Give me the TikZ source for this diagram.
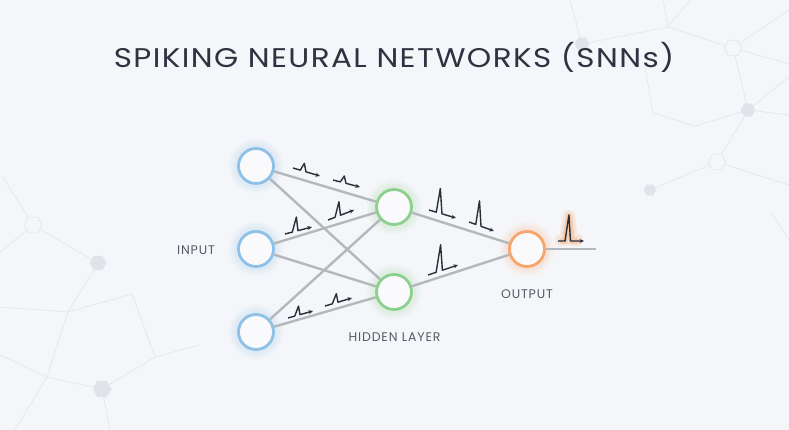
\documentclass[tikz,border=0pt]{standalone}
\usepackage{fontspec}
\setmainfont{Poppins}
\newfontfamily\titlefont[LetterSpace=4.5]{Poppins}
\newfontfamily\labelfont[LetterSpace=7]{Poppins}
\usetikzlibrary{calc,arrows.meta}
\definecolor{bg}{HTML}{F5F6F9}
\definecolor{netc}{HTML}{E4E8EE}
\definecolor{hexf}{HTML}{E0E4EA}
\definecolor{connc}{HTML}{B4B7BC}
\definecolor{bluec}{HTML}{8EC1E8}
\definecolor{greenc}{HTML}{8DD08D}
\definecolor{orangec}{HTML}{F7A56A}
\definecolor{spikec}{HTML}{2A2E37}
\definecolor{titlec}{HTML}{2D3340}
\definecolor{labelc}{HTML}{555B66}
\tikzset{
  neuron/.style={circle, minimum size=35pt, inner sep=0pt, line width=2.8pt, fill=white!50!bg},
  conn/.style={draw=connc, line width=2.4pt},
  spikeline/.style={draw=spikec, line width=1.4pt, line join=round, -{Stealth[length=4.5pt,width=4pt]}},
  netline/.style={draw=netc, line width=0.8pt},
  hexo/.style={draw=netc, line width=0.9pt, fill=bg},
  hexfl/.style={draw=hexf, line width=0.6pt, fill=hexf},
  lbl/.style={text=labelc, font=\labelfont\fontsize{12.5}{13}\selectfont, inner sep=0pt},
}
\newcommand{\spk}[3]{\draw[spikeline] (#1) -- ($(#1)!0.27!(#2)$) -- ($(#1)!0.42!(#2)+(0,#3)$) -- ($(#1)!0.48!(#2)$) -- (#2);}
\newcommand{\hexat}[3]{\path[#3] (#1) +(0:#2) -- +(60:#2) -- +(120:#2) -- +(180:#2) -- +(240:#2) -- +(300:#2) -- cycle;}
\newcommand{\halo}[2]{%
  \foreach \r/\op in {28/0.035,26/0.045,24/0.06,22/0.08}{\fill[#2, opacity=\op] (#1) circle (\r pt);}}
\begin{document}
\begin{tikzpicture}[x=1pt,y=1pt]
\useasboundingbox (0,0) rectangle (789,-430);
\fill[bg] (0,0) rectangle (789,-430);
% background network, left bottom
\draw[netline] (3,-177) -- (33,-225) -- (0,-252);
\draw[netline] (33,-225) -- (98,-263) -- (68,-312) -- (0,-307);
\draw[netline] (68,-312) -- (132,-294) -- (155,-357) -- (102,-389) -- (47,-377) -- (68,-312);
\draw[netline] (0,-355) -- (47,-377) -- (15,-430);
\draw[netline] (155,-357) -- (200,-345);
\draw[netline] (102,-389) -- (110,-430);
\hexat{33,-225}{9}{hexo}
\hexat{98,-263}{8}{hexfl}
\hexat{102,-389}{9}{hexfl}
% background network, top right
\draw[netline] (663,0) -- (668,-27) -- (690,0);
\draw[netline] (582,-44) -- (668,-27) -- (733,-48) -- (789,-10);
\draw[netline] (570,0) -- (582,-44);
\draw[netline] (733,-48) -- (789,-64);
\draw[netline] (733,-48) -- (748,-110) -- (789,-115);
\draw[netline] (748,-110) -- (789,-77);
\draw[netline] (748,-110) -- (717,-162) -- (789,-185);
\draw[netline] (717,-162) -- (650,-190);
\draw[netline] (645,-67) -- (653,-113) -- (695,-126) -- (748,-110);
\draw[netline] (772,-213) -- (789,-240);
\hexat{582,-44}{7}{hexfl}
\hexat{733,-48}{9}{hexo}
\hexat{748,-110}{7}{hexfl}
\hexat{717,-162}{9}{hexo}
\hexat{650,-190}{6}{hexfl}
% title
\node[text=titlec, font=\titlefont\fontsize{27}{30}\selectfont, inner sep=0pt] (title) at (394,-57) {\scalebox{1.15}[1]{SPIKING NEURAL NETWORKS (SNNs)}};
% halos
\halo{256,-166}{bluec}
\halo{256,-249}{bluec}
\halo{256,-332}{bluec}
\halo{394,-207}{greenc}
\halo{394,-292}{greenc}
\halo{527,-249}{orangec}
% neurons
\node[neuron, draw=bluec] (i1) at (256,-166) {};
\node[neuron, draw=bluec] (i2) at (256,-249) {};
\node[neuron, draw=bluec] (i3) at (256,-332) {};
\node[neuron, draw=greenc] (h1) at (394,-207) {};
\node[neuron, draw=greenc] (h2) at (394,-292) {};
\node[neuron, draw=orangec] (o) at (527,-249) {};
\coordinate (oend) at (596,-249);
% connections
\draw[conn] (i1) -- (h1);
\draw[conn] (i1) -- (h2);
\draw[conn] (i2) -- (h1);
\draw[conn] (i2) -- (h2);
\draw[conn] (i3) -- (h1);
\draw[conn] (i3) -- (h2);
\draw[conn] (h1) -- (o);
\draw[conn] (h2) -- (o);
\draw[conn] (o) -- (oend);
% spikes
\spk{293,-168}{320,-176}{8}
\spk{333,-180}{360,-187}{7}
\spk{285,-234}{312,-227}{14}
\spk{328,-220}{354,-210}{14}
\spk{288,-318}{313,-311}{9}
\spk{325,-306}{352,-298}{9}
\spk{429,-210}{456,-218}{25}
\spk{469,-222}{494,-231}{25}
\spk{428,-275}{458,-265}{26}
% output spike with glow
\draw[draw=orangec, opacity=0.2, line width=12pt, line join=round, line cap=round] (561,-240) -- (565,-240) -- (569,-216) -- (572,-240) -- (577,-240);
\draw[draw=orangec, opacity=0.4, line width=6pt, line join=round, line cap=round] (562,-241) -- (565,-241) -- (569,-216) -- (572,-241) -- (576,-241);
\spk{558,-241}{584,-241}{26}
% labels
\node[lbl] (linput) at (196,-250) {INPUT};
\node[lbl] (lhidden) at (394.5,-337.5) {HIDDEN LAYER};
\node[lbl] (loutput) at (527,-294.5) {OUTPUT};
\end{tikzpicture}
\end{document}
